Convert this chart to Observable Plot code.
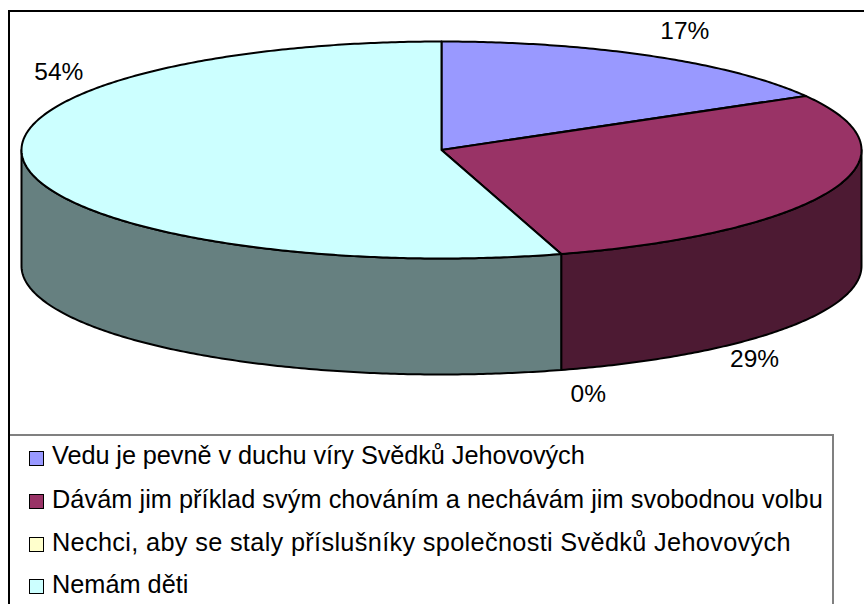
<!DOCTYPE html>
<html><head><meta charset="utf-8">
<script src="https://cdn.jsdelivr.net/npm/d3@7"></script>
<script src="https://cdn.jsdelivr.net/npm/@observablehq/plot@0.6"></script>
<style>
html,body{margin:0;padding:0;background:#fff;overflow:hidden}
#page{position:relative;width:864px;height:604px;font-family:"Liberation Sans",Arial,sans-serif;color:#000}
#chart{position:absolute;left:0;top:0}
#chart svg{display:block}
#legend{position:absolute;left:10px;top:434px;width:824px;height:170px;box-sizing:border-box;border-top:2px solid #808080;border-right:2px solid #808080;background:#fff}
.row{position:absolute;left:19px;height:28px;line-height:28px;font-size:25.3px;white-space:nowrap}
.sw{position:absolute;left:0;top:8px;width:15px;height:15px;box-sizing:border-box;border:1.5px solid #000}
.tx{position:absolute;left:23px}
</style></head><body>
<div id="page"><div id="chart"></div><div id="legend"></div></div>
<script>
const categories = ["Vedu je pevně v duchu víry Svědků Jehovových","Dávám jim příklad svým chováním a nechávám jim svobodnou volbu","Nechci, aby se staly příslušníky společnosti Svědků Jehovových","Nemám děti"];
const shares = [16.7, 28.7, 0, 54.6];
const shareLabels = ["17%","29%","0%","54%"];
const colors = ["#9999FF","#993366","#FFFFCC","#CCFFFF"];
const sideColors = ["#4D4D80","#4D1A33","#808066","#668080"];

const depth = 1.069;
const total = d3.sum(shares);
let acc = 0;
const slices = categories.map((name,i)=>{
  const a0 = acc/total*2*Math.PI; acc += shares[i];
  return {name, a0, a1: acc/total*2*Math.PI, label: shareLabels[i]};
});
const rim = (a, drop=0) => ({x: Math.sin(a), y: Math.cos(a) - drop});
const arc = (a0,a1,drop=0) => {
  const n = Math.max(2, Math.ceil((a1-a0)/0.01));
  return d3.range(n+1).map(k => rim(a0+(a1-a0)*k/n, drop));
};
const tops = slices.flatMap(s => [{x:0,y:0},...arc(s.a0,s.a1),{x:0,y:0}].map(p=>({...p,name:s.name})));
const sides = slices.flatMap((s,i)=>{
  const a0 = Math.max(s.a0, Math.PI/2), a1 = Math.min(s.a1, 3*Math.PI/2);
  if (a1 <= a0) return [];
  const pts = [...arc(a0,a1), ...arc(a0,a1,depth).reverse()];
  pts.push(pts[0]);
  return pts.map(p=>({...p,name:s.name}));
});
const labelOffsets = [[33,-25],[-77,169],[27,140],[33,-93]];

const chart = Plot.plot({
  width: 864, height: 434,
  margin: 0,
  x: {axis:null, domain:[-1,1], range:[21,861]},
  y: {axis:null, domain:[1,-1], range:[41,258]},
  marks: [
    Plot.line(sides, {x:"x", y:"y", z:"name", fill:d=>sideColors[categories.indexOf(d.name)], stroke:"#000", strokeWidth:2, curve:"linear", strokeLinejoin:"round"}),
    Plot.line(tops, {x:"x", y:"y", z:"name", fill:d=>colors[categories.indexOf(d.name)], stroke:"#000", strokeWidth:2, curve:"linear", strokeLinejoin:"round"}),
    ...slices.map((s,i)=>{
      const p = rim((s.a0+s.a1)/2);
      return Plot.text([s.label], {x:()=>p.x, y:()=>p.y, text:d=>d, dx:labelOffsets[i][0], dy:labelOffsets[i][1], fontSize:24.5, fontFamily:"Liberation Sans", fill:"#000"});
    })
  ]
});
document.getElementById("chart").append(chart);

const frame = document.createElement("div");
frame.style.cssText = "position:absolute;left:8px;top:10px;width:856px;height:594px;box-sizing:border-box;border:2px solid #000;border-bottom:none;border-right:none;pointer-events:none";
document.getElementById("page").insertBefore(frame, document.getElementById("chart"));

const rowTops = [7,50,93,135];
const textShift = [-2,-1,-1,-1];
const textSpacing = [-0.07,0.05,0.33,0];
const legend = document.getElementById("legend");
categories.forEach((c,i)=>{
  const r = document.createElement("div"); r.className="row"; r.style.top=rowTops[i]+"px";
  const sw = document.createElement("div"); sw.className="sw"; sw.style.background=colors[i];
  const t = document.createElement("div"); t.className="tx"; t.textContent=c;
  t.style.top=textShift[i]+"px"; t.style.letterSpacing=textSpacing[i]+"px";
  r.append(sw,t); legend.append(r);
});
</script></body></html>
